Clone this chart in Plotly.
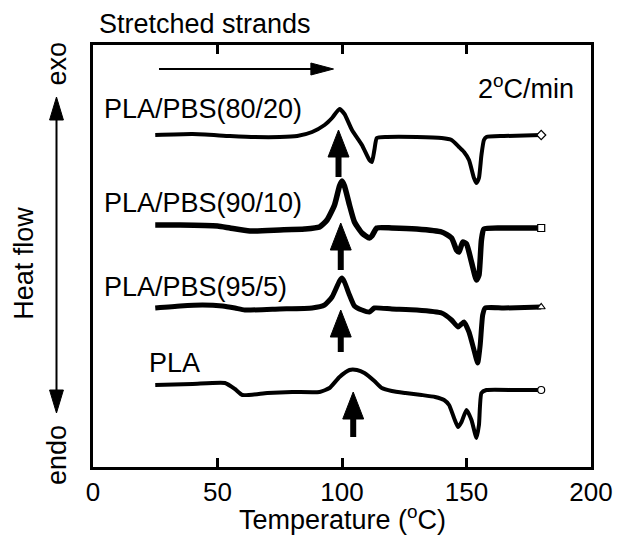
import plotly.graph_objects as go

# Temperature (°C) and heat-flow (arbitrary units, exo up, curves offset)
t_8020 = [25, 40, 55, 65, 75, 82, 88, 93, 96, 99, 101, 104, 108, 111, 112, 113, 114, 118, 130, 140, 144, 147, 149, 151, 153, 154, 155, 156, 157, 158, 165, 180]
h_8020 = [332, 333, 331, 330, 330, 331, 335, 342, 349, 358, 353, 337, 322, 307, 305, 317, 329, 330, 330, 329, 327, 320, 315, 307, 289, 284, 289, 312, 327, 330, 331, 332]

t_9010 = [25, 35, 50, 55, 63, 75, 85, 91, 94, 97, 99, 100, 101, 103, 105, 108, 111, 112, 114, 120, 130, 140, 144, 146, 147, 148.5, 150, 152, 154, 155, 156, 157, 165, 180]
h_9010 = [242, 242, 241, 239, 236, 237, 238, 240, 247, 262, 281, 286, 281, 262, 245, 234, 229, 231, 239, 239, 238, 235, 229, 217, 215, 225, 223, 205, 187, 192, 227, 238, 239, 239]

t_955 = [25, 35, 44, 52, 57, 61, 75, 88, 93, 96, 99, 100, 101, 103, 105, 108, 111, 113, 120, 130, 140, 144, 146.6, 148, 149, 151, 153, 154.5, 155.5, 156.5, 157.5, 165, 180]
h_955 = [159, 161, 162, 161, 159, 157, 158, 159, 162, 170, 186, 189, 185, 172, 161, 157, 155, 159, 158, 157, 154, 147, 140, 143, 145, 135, 117, 104, 122, 152, 159, 159, 160]

t_pla = [25, 40, 53, 57, 60, 70, 80, 91, 95, 99, 103, 106, 109, 113, 116, 120, 125.5, 132, 137.4, 141, 143, 145, 146.6, 148, 150, 152, 154, 155, 156, 158, 170, 180]
h_pla = [82, 83, 84, 78, 72, 74, 75, 75, 79, 90, 97, 97, 94, 86, 79, 76, 74, 72, 70, 67, 62, 49, 40, 45, 57, 47, 29, 42, 74, 77, 77, 77]

series_names = ["PLA/PBS(80/20)", "PLA/PBS(90/10)", "PLA/PBS(95/5)", "PLA"]
series_t = [t_8020, t_9010, t_955, t_pla]
series_h = [h_8020, h_9010, h_955, h_pla]
series_w = [4, 5.5, 5, 4]
series_end_symbol = ["diamond", "square", "triangle-up", "circle"]

# Label positions (T, heat flow) for curve names
label_t = [3.6, 3.6, 3.6, 21.8]
label_h = [358, 264, 180, 104]

# Cold-crystallization arrows: x (°C), tail, tip
arrow_t = [98.6, 99.5, 99.5, 104.5]
arrow_tail = [290, 197, 115, 30]
arrow_tip = [337, 244, 157, 75]

x_ticks = [0, 50, 100, 150, 200]

FONT = "Liberation Sans, Arial, Helvetica, sans-serif"
fig = go.Figure()

for t, h, w, n, sym in zip(series_t, series_h, series_w, series_names, series_end_symbol):
    fig.add_trace(go.Scatter(x=t, y=h, mode="lines", name=n,
                             line=dict(color="black", width=w, shape="spline", smoothing=0.5),
                             showlegend=False))
    fig.add_trace(go.Scatter(x=[t[-1]], y=[h[-1]], mode="markers", showlegend=False,
                             marker=dict(symbol=sym, size=7, color="white",
                                         line=dict(color="black", width=1.2))))

shapes = []
# vertical thick arrows
for xt, ta, ti in zip(arrow_t, arrow_tail, arrow_tip):
    head_len = 27
    shapes.append(dict(type="line", x0=xt, x1=xt, y0=ta, y1=ti - head_len + 2,
                       line=dict(color="black", width=6), xref="x", yref="y"))
    shapes.append(dict(type="path", xref="x", yref="y",
                       path=f"M {xt-4.2},{ti-head_len} L {xt+4.2},{ti-head_len} L {xt},{ti} Z",
                       fillcolor="black", line=dict(color="black", width=1)))

# horizontal heating arrow
hx0, hx1, hy = 26.5, 96.6, 398
shapes.append(dict(type="line", x0=hx0, x1=hx1 - 8, y0=hy, y1=hy, xref="x", yref="y",
                   line=dict(color="black", width=2)))
shapes.append(dict(type="path", xref="x", yref="y",
                   path=f"M {hx1-9.1},{hy-6} L {hx1-9.1},{hy+6} L {hx1},{hy} Z",
                   fillcolor="black", line=dict(color="black", width=1)))

# left double-headed heat flow arrow (outside plot)
px = -0.0733
top_tip, bot_tip = 370, 54
shapes.append(dict(type="line", xref="paper", yref="y", x0=px, x1=px, y0=bot_tip + 20, y1=top_tip - 20,
                   line=dict(color="black", width=2)))
shapes.append(dict(type="path", xref="paper", yref="y",
                   path=f"M {px-0.0139},{top_tip-23} L {px+0.0139},{top_tip-23} L {px},{top_tip} Z",
                   fillcolor="black", line=dict(color="black", width=1)))
shapes.append(dict(type="path", xref="paper", yref="y",
                   path=f"M {px-0.0139},{bot_tip+23} L {px+0.0139},{bot_tip+23} L {px},{bot_tip} Z",
                   fillcolor="black", line=dict(color="black", width=1)))

tf = dict(size=27, color="black", family=FONT)
annotations = []
for n, lt, lh in zip(series_names, label_t, label_h):
    annotations.append(dict(x=lt, y=lh, text=n, xanchor="left", yanchor="middle",
                            showarrow=False, font=tf))
annotations.append(dict(xref="paper", yref="paper", x=0.008, y=1.0498, text="Stretched strands",
                        xanchor="left", yanchor="middle", showarrow=False, font=tf))
annotations.append(dict(x=194.1, y=380, text="2<sup>o</sup>C/min", xanchor="right", yanchor="middle",
                        showarrow=False, font=tf))
annotations.append(dict(xref="paper", yref="y", x=-0.0723, y=403.5, text="exo", textangle=-90,
                        xanchor="center", yanchor="middle", showarrow=False, font=tf))
annotations.append(dict(xref="paper", yref="y", x=-0.0723, y=12, text="endo", textangle=-90,
                        xanchor="center", yanchor="middle", showarrow=False, font=tf))
annotations.append(dict(xref="paper", yref="y", x=-0.139, y=204, text="Heat flow", textangle=-90,
                        xanchor="center", yanchor="middle", showarrow=False, font=tf))
annotations.append(dict(xref="paper", yref="paper", x=0.5, y=-0.1209, text="Temperature (<sup>o</sup>C)",
                        xanchor="center", yanchor="middle", showarrow=False, font=tf))

fig.update_layout(
    width=625, height=545,
    margin=dict(l=93, r=27, t=45, b=78),
    paper_bgcolor="white", plot_bgcolor="white",
    font=dict(family=FONT, color="black", size=26),
    shapes=shapes, annotations=annotations,
    xaxis=dict(range=[0, 200], tickvals=x_ticks, ticktext=[str(v) for v in x_ticks],
               ticks="inside", ticklen=9, tickwidth=3, tickcolor="black",
               showline=True, linecolor="black", linewidth=3, mirror="ticks",
               showgrid=False, zeroline=False,
               tickfont=dict(size=26)),
    yaxis=dict(range=[0, 422], showticklabels=False, ticks="",
               showline=True, linecolor="black", linewidth=3, mirror=True,
               showgrid=False, zeroline=False),
)

fig.write_html("out.html")
